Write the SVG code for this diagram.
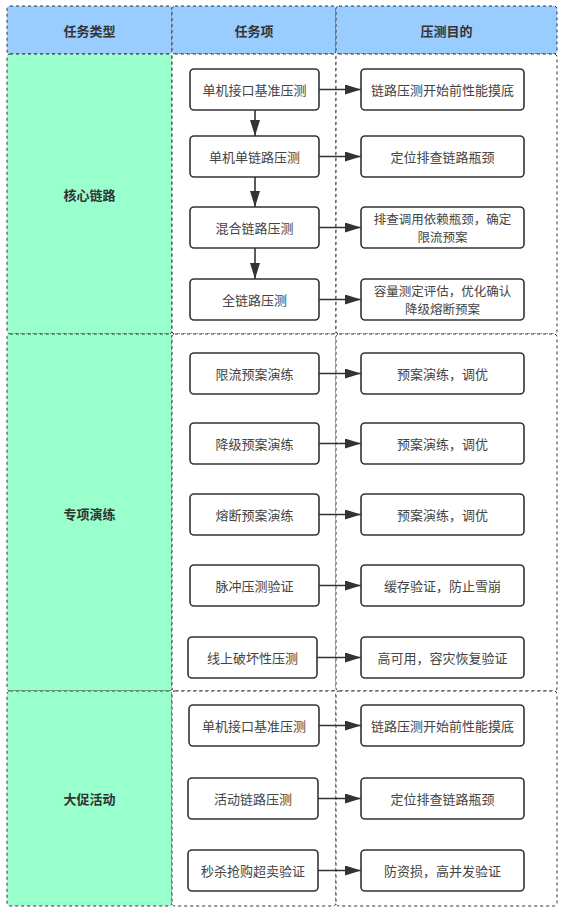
<svg xmlns="http://www.w3.org/2000/svg" width="561" height="908" viewBox="0 0 561 908">
<style>
.cell{stroke:#333;stroke-width:1;stroke-dasharray:3 3;}
.hd{fill:#99CCFF;}
.cat{fill:#99FFCC;}
.wh{fill:#FFFFFF;}
.box{fill:#FFFFFF;stroke:#333;stroke-width:1.6;}
.t{font-family:"Noto Sans CJK SC","Noto Sans",sans-serif;font-size:13px;fill:#333;text-anchor:middle;dominant-baseline:central;}
.n{fill:#444;}
.s{font-size:12.5px;}
.b{font-weight:bold;}
.c{stroke:#333;stroke-width:1.6;fill:none;marker-end:url(#arr);}
</style>
<defs>
<marker id="arr" markerUnits="userSpaceOnUse" markerWidth="16" markerHeight="10" refX="16" refY="5" orient="auto">
<path d="M0,0 L16,5 L0,10 z" fill="#333"/>
</marker>
</defs>
<rect x="0" y="0" width="561" height="908" fill="#FFFFFF"/>
<g id="table">
<g id="header">
<rect class="cell hd" x="7" y="6" width="165" height="48" rx="3"/>
<rect class="cell hd" x="172" y="6" width="164" height="48" rx="3"/>
<rect class="cell hd" x="336" y="6" width="221" height="48" rx="3"/>
<text class="t b" x="89.5" y="30">任务类型</text>
<text class="t b" x="254" y="30">任务项</text>
<text class="t b" x="446.5" y="30">压测目的</text>
</g>
<g id="row-core">
<rect class="cell cat" x="7" y="54" width="165" height="280" rx="3"/>
<rect class="cell wh" x="172" y="54" width="164" height="280" rx="3"/>
<rect class="cell wh" x="336" y="54" width="221" height="280" rx="3"/>
<text class="t b" x="89.5" y="194">核心链路</text>
</g>
<g id="row-special">
<rect class="cell cat" x="7" y="334" width="165" height="357" rx="3"/>
<rect class="cell wh" x="172" y="334" width="164" height="357" rx="3"/>
<rect class="cell wh" x="336" y="334" width="221" height="357" rx="3"/>
<text class="t b" x="89.5" y="513">专项演练</text>
</g>
<g id="row-promo">
<rect class="cell cat" x="7" y="691" width="165" height="215" rx="3"/>
<rect class="cell wh" x="172" y="691" width="164" height="215" rx="3"/>
<rect class="cell wh" x="336" y="691" width="221" height="215" rx="3"/>
<text class="t b" x="89.5" y="798">大促活动</text>
</g>
</g>
<g id="connectors">
<path class="c" d="M255,110 L255,136"/>
<path class="c" d="M255,177 L255,207"/>
<path class="c" d="M255,248 L255,279"/>
<path class="c" d="M319,89.5 L361,89.5"/>
<path class="c" d="M319,156.5 L361,156.5"/>
<path class="c" d="M319,227.5 L361,227.5"/>
<path class="c" d="M319,299.5 L361,299.5"/>
<path class="c" d="M319,373.5 L361,373.5"/>
<path class="c" d="M319,443.5 L361,443.5"/>
<path class="c" d="M319,514.5 L361,514.5"/>
<path class="c" d="M319,585.5 L361,585.5"/>
<path class="c" d="M317,657.5 L361,657.5"/>
<path class="c" d="M319,725.5 L361,725.5"/>
<path class="c" d="M318,798.5 L361,798.5"/>
<path class="c" d="M318,870.5 L361,870.5"/>
</g>
<g id="n1"><rect class="box" x="190" y="69" width="129" height="41" rx="4"/><text class="t n" x="254.5" y="89.5">单机接口基准压测</text></g>
<g id="n2"><rect class="box" x="190" y="136" width="129" height="41" rx="4"/><text class="t n" x="254.5" y="156.5">单机单链路压测</text></g>
<g id="n3"><rect class="box" x="190" y="207" width="129" height="41" rx="4"/><text class="t n" x="254.5" y="227.5">混合链路压测</text></g>
<g id="n4"><rect class="box" x="190" y="279" width="129" height="41" rx="4"/><text class="t n" x="254.5" y="299.5">全链路压测</text></g>
<g id="p1"><rect class="box" x="361" y="69" width="163" height="41" rx="4"/><text class="t n" x="442.5" y="89.5">链路压测开始前性能摸底</text></g>
<g id="p2"><rect class="box" x="361" y="136" width="163" height="41" rx="4"/><text class="t n" x="442.5" y="156.5">定位排查链路瓶颈</text></g>
<g id="p3"><rect class="box" x="361" y="207" width="163" height="41" rx="4"/><text class="t n s" x="442.5" y="218.4">排查调用依赖瓶颈，确定</text><text class="t n s" x="442.5" y="236.6">限流预案</text></g>
<g id="p4"><rect class="box" x="361" y="279" width="163" height="41" rx="4"/><text class="t n s" x="442.5" y="290.4">容量测定评估，优化确认</text><text class="t n s" x="442.5" y="308.6">降级熔断预案</text></g>
<g id="n5"><rect class="box" x="190" y="353" width="129" height="41" rx="4"/><text class="t n" x="254.5" y="373.5">限流预案演练</text></g>
<g id="n6"><rect class="box" x="190" y="423" width="129" height="41" rx="4"/><text class="t n" x="254.5" y="443.5">降级预案演练</text></g>
<g id="n7"><rect class="box" x="190" y="494" width="129" height="41" rx="4"/><text class="t n" x="254.5" y="514.5">熔断预案演练</text></g>
<g id="n8"><rect class="box" x="190" y="565" width="129" height="41" rx="4"/><text class="t n" x="254.5" y="585.5">脉冲压测验证</text></g>
<g id="n9"><rect class="box" x="188" y="637" width="129" height="41" rx="4"/><text class="t n" x="252.5" y="657.5">线上破坏性压测</text></g>
<g id="p5"><rect class="box" x="361" y="353" width="163" height="41" rx="4"/><text class="t n" x="442.5" y="373.5">预案演练，调优</text></g>
<g id="p6"><rect class="box" x="361" y="423" width="163" height="41" rx="4"/><text class="t n" x="442.5" y="443.5">预案演练，调优</text></g>
<g id="p7"><rect class="box" x="361" y="494" width="163" height="41" rx="4"/><text class="t n" x="442.5" y="514.5">预案演练，调优</text></g>
<g id="p8"><rect class="box" x="361" y="565" width="163" height="41" rx="4"/><text class="t n" x="442.5" y="585.5">缓存验证，防止雪崩</text></g>
<g id="p9"><rect class="box" x="361" y="637" width="163" height="41" rx="4"/><text class="t n" x="442.5" y="657.5">高可用，容灾恢复验证</text></g>
<g id="n10"><rect class="box" x="189" y="705" width="130" height="41" rx="4"/><text class="t n" x="254" y="725.5">单机接口基准压测</text></g>
<g id="n11"><rect class="box" x="188" y="778" width="130" height="41" rx="4"/><text class="t n" x="253" y="798.5">活动链路压测</text></g>
<g id="n12"><rect class="box" x="188" y="850" width="130" height="41" rx="4"/><text class="t n" x="253" y="870.5">秒杀抢购超卖验证</text></g>
<g id="p10"><rect class="box" x="361" y="705" width="163" height="41" rx="4"/><text class="t n" x="442.5" y="725.5">链路压测开始前性能摸底</text></g>
<g id="p11"><rect class="box" x="361" y="778" width="163" height="41" rx="4"/><text class="t n" x="442.5" y="798.5">定位排查链路瓶颈</text></g>
<g id="p12"><rect class="box" x="361" y="850" width="163" height="41" rx="4"/><text class="t n" x="442.5" y="870.5">防资损，高并发验证</text></g>
</svg>
